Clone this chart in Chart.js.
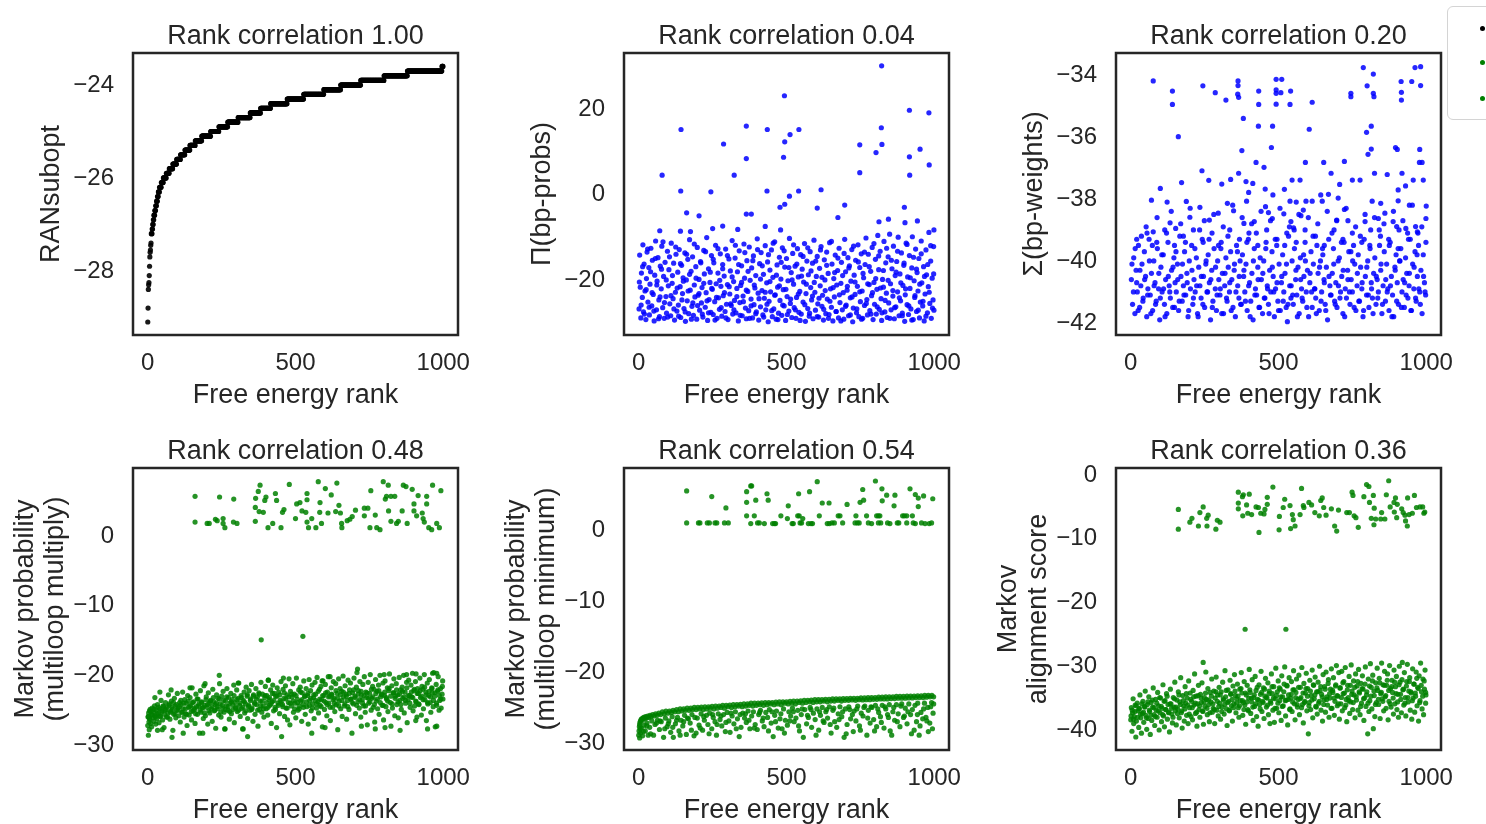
<!DOCTYPE html>
<html>
<head>
  <title>Rank correlation panels</title>
  <script src="https://cdn.jsdelivr.net/npm/chart.js@4.4.1/dist/chart.umd.min.js"></script>
  <style>
    body { margin: 0; width: 1486px; height: 824px; overflow: hidden; position: relative; background: #fff; }
    canvas { position: absolute; }
    #legend { position: absolute; left: 1447px; top: 6px; width: 80px; height: 112px; border: 1px solid #d4d4d4; border-radius: 6px; background: #fff; z-index: 5; }
    .dot { position: absolute; width: 5px; height: 5px; border-radius: 50%; }
  </style>
</head>
<body>
  <canvas id="c1" width="591" height="412" style="left:0px;top:0px"></canvas>
  <canvas id="c2" width="591" height="412" style="left:491px;top:0px"></canvas>
  <canvas id="c3" width="591" height="412" style="left:983px;top:0px"></canvas>
  <canvas id="c4" width="591" height="412" style="left:0px;top:415px"></canvas>
  <canvas id="c5" width="591" height="412" style="left:491px;top:415px"></canvas>
  <canvas id="c6" width="591" height="412" style="left:983px;top:415px"></canvas>
  <div id="legend">
    <span class="dot" style="left:32px;top:19px;background:#000"></span>
    <span class="dot" style="left:32px;top:53px;background:#008000"></span>
    <span class="dot" style="left:32px;top:89px;background:#008000"></span>
  </div>
<script>

// tick values
const rankTicks = [0, 500, 1000];
const ranTicks = [-28, -26, -24];
const bpProbsTicks = [-20, 0, 20];
const bpWeightsTicks = [-42, -40, -38, -36, -34];
const multiplyTicks = [-30, -20, -10, 0];
const minimumTicks = [-30, -20, -10, 0];
const alignmentTicks = [-40, -30, -20, -10, 0];

// RANsubopt: runs of equal value [first rank, last rank, value]
const ranRuns = [
  [0,0,-29.1],[1,1,-28.8],[2,2,-28.4],[3,3,-28.3],[4,4,-28.25],[5,5,-28.1],[6,6,-27.9],[7,7,-27.7],[8,8,-27.6],[9,9,-27.55],
  [10,10,-27.45],[11,11,-27.4],[12,14,-27.2],[15,16,-27.1],[17,18,-27.0],[19,20,-26.9],[21,23,-26.8],[24,26,-26.7],[27,29,-26.6],[30,32,-26.5],
  [33,35,-26.4],[36,39,-26.3],[40,45,-26.2],[46,52,-26.1],[53,62,-26.0],[63,72,-25.9],[73,84,-25.8],[85,97,-25.7],[98,110,-25.6],[111,125,-25.5],
  [126,142,-25.4],[143,160,-25.3],[161,182,-25.2],[183,212,-25.1],[213,240,-25.0],[241,270,-24.9],[271,305,-24.8],[306,346,-24.7],[347,381,-24.6],[382,415,-24.5],
  [416,471,-24.4],[472,527,-24.3],[528,595,-24.2],[596,652,-24.1],[653,720,-24.0],[721,799,-23.9],[800,878,-23.8],[879,995,-23.7],[996,999,-23.6]
];

// Π(bp-probs)
const bpProbsPoints = [
  [822,30.1],[493,23.1],[916,19.7],[982,19.1],[143,15.2],[364,16.0],[435,15.2],[542,15.2],[512,14.0],[494,12.3],
  [821,15.6],[287,11.8],[748,11.6],[823,11.7],[803,9.8],[952,10.6],[916,8.8],[364,8.4],[490,8.7],[983,6.9],
  [79,4.5],[323,4.5],[748,5.1],[917,4.5],[142,0.8],[244,0.6],[434,0.8],[541,0.8],[617,1.1],[510,-0.4],
  [494,-2.3],[478,-3.0],[604,-3.2],[697,-2.5],[899,-3.0],[162,-4.3],[204,-5.0],[364,-4.6],[381,-4.6],[674,-5.4],
  [813,-6.4],[845,-5.8],[943,-6.2],[901,-6.6],[999,-8.3],[71,-8.5],[141,-8.6],[175,-8.7],[284,-7.4],[250,-8.0],
  [428,-7.5],[480,-8.3],[335,-8.2],
  [1,-26.8],[3,-14.2],[5,-21.7],[7,-28.9],[9,-18.4],[12,-24.1],[14,-11.8],[16,-27.5],[18,-16.3],[21,-22.6],
  [24,-29.3],[26,-19.7],[28,-13.5],[31,-25.2],[34,-17.1],[36,-28.2],[38,-21.0],[41,-12.6],[44,-26.1],[46,-15.4],
  [49,-23.4],[52,-29.6],[54,-18.9],[57,-10.9],[60,-27.0],[62,-20.3],[65,-14.8],[68,-24.7],[70,-28.6],[73,-16.8],
  [76,-22.1],[78,-12.1],[81,-26.5],[84,-19.2],[86,-29.0],[89,-15.9],[92,-23.9],[94,-27.8],[97,-13.3],[100,-21.4],
  [102,-17.6],[105,-25.6],[108,-28.4],[110,-11.4],[113,-20.8],[116,-24.4],[118,-16.1],[121,-29.4],[124,-22.9],[126,-14.0],
  [129,-27.3],[132,-18.2],[134,-25.9],[137,-12.9],[140,-21.6],[142,-28.8],[145,-16.6],[148,-23.2],[150,-19.5],[153,-26.7],
  [156,-13.7],[158,-29.7],[161,-20.0],[164,-24.9],[166,-15.2],[169,-27.9],[172,-10.6],[174,-22.4],[177,-18.0],[180,-26.2],
  [182,-14.6],[185,-28.3],[188,-21.2],[190,-24.0],[193,-16.9],[196,-29.2],[198,-12.4],[201,-23.6],[204,-19.9],[206,-27.1],
  [209,-15.7],[212,-25.4],[214,-21.8],[217,-28.7],[220,-13.1],[222,-18.6],[225,-26.4],[228,-23.0],[230,-10.1],[233,-29.5],
  [236,-17.4],[238,-24.6],[241,-20.6],[244,-27.6],[246,-14.3],[249,-22.2],[252,-28.1],[254,-16.0],[257,-25.1],[260,-11.9],
  [262,-20.9],[265,-29.0],[268,-18.4],[270,-24.2],[273,-26.9],[276,-13.9],[278,-21.5],[281,-28.5],[284,-16.4],[286,-23.7],
  [289,-19.1],[292,-27.4],[294,-12.8],[297,-25.7],[300,-21.1],[302,-29.3],[305,-15.1],[308,-23.3],[310,-17.9],[313,-26.0],
  [316,-10.8],[318,-28.0],[321,-20.4],[324,-24.8],[326,-14.9],[329,-27.7],[332,-22.0],[334,-18.1],[337,-29.6],[340,-13.2],
  [342,-25.3],[345,-21.3],[348,-16.7],[350,-28.4],[353,-23.8],[356,-11.6],[358,-19.6],[361,-26.6],[364,-29.1],[366,-15.5],
  [369,-22.7],[372,-27.2],[374,-12.3],[377,-20.1],[380,-24.5],[382,-17.2],[385,-28.9],[388,-14.4],[390,-25.8],[393,-21.9],
  [396,-19.0],[398,-27.5],[401,-10.4],[404,-23.1],[406,-29.4],[409,-16.2],[412,-26.3],[414,-13.6],[417,-22.5],[420,-28.2],
  [422,-18.7],[425,-24.3],[428,-12.0],[430,-27.0],[433,-20.7],[436,-15.8],[438,-29.8],[441,-25.0],[444,-17.7],[446,-22.8],
  [449,-13.0],[452,-28.6],[454,-19.4],[457,-26.8],[460,-11.1],[462,-23.5],[465,-29.2],[468,-16.5],[470,-21.7],[473,-27.8],
  [476,-14.7],[478,-24.8],[481,-19.8],[484,-28.3],[486,-12.5],[489,-22.3],[492,-26.1],[494,-17.0],[497,-29.5],[500,-15.0],
  [502,-23.9],[505,-20.2],[508,-27.3],[510,-10.3],[513,-25.5],[516,-18.3],[518,-28.8],[521,-13.8],[524,-21.0],[526,-26.5],
  [529,-16.8],[532,-29.0],[534,-24.1],[537,-12.7],[540,-19.3],[542,-27.6],[545,-22.7],[548,-14.1],[550,-28.0],[553,-17.5],
  [556,-25.2],[558,-20.5],[561,-11.5],[564,-29.7],[566,-23.2],[569,-15.6],[572,-26.7],[574,-18.8],[577,-28.5],[580,-13.4],
  [582,-21.8],[585,-24.7],[588,-16.1],[590,-29.1],[593,-10.7],[596,-22.9],[598,-27.1],[601,-19.2],[604,-14.5],[606,-25.6],
  [609,-28.7],[612,-17.3],[614,-21.4],[617,-12.2],[620,-26.2],[622,-23.6],[625,-29.4],[628,-15.3],[630,-20.0],[633,-27.9],
  [636,-13.5],[638,-24.5],[641,-18.5],[644,-28.1],[646,-11.3],[649,-22.1],[652,-26.4],[654,-16.3],[657,-29.6],[660,-19.7],
  [662,-24.0],[665,-14.2],[668,-27.4],[670,-21.2],[673,-17.8],[676,-28.9],[678,-12.6],[681,-25.3],[684,-20.8],[686,-15.9],
  [689,-27.0],[692,-23.0],[694,-29.2],[697,-10.5],[700,-18.1],[702,-25.9],[705,-22.4],[708,-14.8],[710,-28.4],[713,-16.7],
  [716,-24.2],[718,-20.3],[721,-12.9],[724,-29.8],[726,-26.6],[729,-18.9],[732,-23.4],[734,-15.4],[737,-27.7],[740,-21.5],
  [742,-11.8],[745,-28.6],[748,-17.1],[750,-25.1],[753,-13.9],[756,-22.6],[758,-29.0],[761,-19.5],[764,-26.0],[766,-16.4],
  [769,-10.2],[772,-24.6],[774,-28.2],[777,-14.0],[780,-21.1],[782,-27.2],[785,-18.0],[788,-23.7],[790,-12.4],[793,-29.3],
  [796,-20.6],[798,-25.7],[801,-15.2],[804,-28.0],[806,-22.2],[809,-9.6],[812,-17.6],[814,-26.9],[817,-13.3],[820,-24.4],
  [822,-29.5],[825,-19.9],[828,-21.7],[830,-11.0],[833,-27.5],[836,-16.0],[838,-23.1],[841,-28.8],[844,-14.6],[846,-25.4],
  [849,-9.3],[852,-20.9],[854,-27.0],[857,-17.4],[860,-23.8],[862,-12.1],[865,-29.1],[868,-19.0],[870,-26.3],[873,-15.7],
  [876,-22.8],[878,-10.0],[881,-28.4],[884,-18.6],[886,-24.9],[889,-13.7],[892,-27.8],[894,-21.3],[897,-16.6],[900,-29.7],
  [902,-23.5],[905,-11.4],[908,-25.8],[910,-19.3],[913,-28.1],[916,-14.3],[918,-22.0],[921,-26.8],[924,-17.2],[926,-9.9],
  [929,-29.3],[932,-20.2],[934,-24.1],[937,-12.8],[940,-27.4],[942,-18.3],[945,-22.6],[948,-15.0],[950,-28.9],[953,-25.2],
  [956,-10.9],[958,-20.7],[961,-26.1],[964,-16.9],[966,-29.6],[969,-23.3],[972,-13.0],[974,-18.8],[977,-27.7],[980,-21.6],
  [982,-8.9],[985,-25.5],[988,-15.6],[990,-29.0],[993,-19.6],[996,-24.7],[998,-12.2],[999,-27.1],
  [2,-20.5],[8,-25.9],[13,-16.9],[19,-28.0],[25,-22.3],[30,-12.8],[35,-26.4],[40,-18.1],[45,-23.0],[51,-27.3],
  [56,-15.0],[61,-21.2],[67,-29.1],[72,-24.0],[77,-17.5],[82,-11.1],[87,-25.3],[93,-20.0],[98,-28.7],[104,-14.6],
  [109,-23.7],[114,-19.0],[119,-26.8],[125,-12.3],[130,-21.9],[135,-28.5],[141,-16.2],[146,-24.7],[151,-20.3],[157,-27.5],
  [162,-14.0],[167,-22.6],[172,-18.7],[178,-29.2],[183,-25.4],[188,-11.6],[194,-19.6],[199,-26.0],[204,-23.2],[210,-16.0],
  [215,-28.0],[220,-20.8],[226,-13.4],[231,-24.9],[236,-27.7],[242,-18.2],[247,-22.0],[252,-15.2],[258,-29.4],[263,-24.1],
  [268,-12.7],[274,-20.1],[279,-26.5],[284,-17.4],[290,-23.0],[295,-28.9],[300,-14.3],[306,-21.6],[311,-25.6],[316,-19.3],
  [322,-27.0],[327,-11.9],[332,-23.9],[338,-16.4],[343,-28.3],[348,-20.6],[354,-25.1],[359,-13.6],[364,-22.4],[370,-18.0],
  [375,-29.0],[380,-26.1],[386,-15.5],[391,-21.2],[396,-27.9],[402,-12.9],[407,-24.4],[412,-19.8],[418,-16.7],[423,-28.7],
  [428,-22.9],[434,-25.7],[439,-14.1],[444,-20.4],[450,-27.2],[455,-11.4],[460,-23.6],[466,-18.9],[471,-29.3],[476,-21.4],
  [482,-15.9],[487,-25.9],[492,-13.2],[498,-22.2],[503,-28.1],[508,-17.1],[514,-24.5],[519,-20.0],[524,-11.8],[530,-27.0],
  [535,-16.3],[540,-23.3],[546,-29.5],[551,-19.1],[556,-14.5],[562,-25.8],[567,-21.0],[572,-12.5],[578,-27.8],[583,-17.9],
  [588,-23.8],[594,-20.6],[599,-15.6],[604,-28.6],[610,-24.3],[615,-13.0],[620,-19.4],[626,-26.9],[631,-22.5],[636,-16.6],
  [642,-29.0],[647,-25.0],[652,-11.0],[658,-21.8],[663,-18.3],[668,-27.4],[674,-14.9],[679,-23.5],[684,-29.6],[690,-19.0],
  [695,-13.8],[700,-26.2],[706,-21.5],[711,-17.2],[716,-28.2],[722,-24.0],[727,-12.1],[732,-20.5],[738,-26.8],[743,-15.8],
  [748,-22.8],[754,-29.2],[759,-18.5],[764,-13.5],[770,-25.5],[775,-20.9],[780,-16.9],[786,-28.0],[791,-23.0],[796,-11.5],
  [802,-19.7],[807,-26.3],[812,-14.4],[818,-21.9],[823,-27.7],[828,-17.8],[834,-24.8],[839,-12.6],[844,-20.1],[850,-29.0],
  [855,-15.4],[860,-22.5],[866,-26.5],[871,-18.2],[876,-13.3],[882,-24.2],[887,-20.7],[892,-28.4],[898,-16.1],[903,-22.1],
  [908,-11.7],[914,-26.1],[919,-19.5],[924,-29.4],[930,-14.7],[935,-23.7],[940,-17.5],[946,-27.1],[951,-21.0],[956,-13.9],
  [962,-25.0],[967,-19.2],[972,-28.5],[978,-16.4],[983,-22.9],[988,-12.0],[994,-26.6],[998,-18.6]
];

// Σ(bp-weights)
const bpWeightsPoints = [
  [787,-33.76],[821,-33.97],[962,-33.76],[981,-33.73],[951,-34.21],[915,-34.21],[981,-34.34],[76,-34.19],[141,-34.52],[141,-34.95],
  [244,-34.35],[286,-34.57],[322,-34.81],[363,-34.19],[363,-34.34],[362,-34.62],[365,-34.72],[433,-34.52],[433,-34.95],[492,-34.14],
  [511,-34.14],[492,-34.48],[492,-34.59],[508,-34.57],[492,-34.94],[541,-34.52],[539,-34.95],[614,-34.88],[745,-34.59],[745,-34.70],
  [800,-34.35],[821,-34.59],[823,-34.70],[916,-34.56],[916,-34.81],[381,-35.40],[161,-35.99],[432,-35.65],[480,-35.65],[604,-35.75],
  [814,-35.65],[798,-35.85],[476,-36.34],[376,-36.44],[814,-36.39],[803,-36.56],[896,-36.34],[902,-36.40],[978,-36.40],[977,-36.82],
  [986,-36.82],[241,-37.09],[424,-36.82],[451,-36.98],[591,-36.82],[653,-36.82],[723,-36.79],[825,-37.17],[868,-37.21],[918,-37.17],
  [956,-37.39],[990,-37.39],[100,-37.66],[172,-37.47],[264,-37.40],[308,-37.52],[338,-37.37],[365,-37.17],[390,-37.44],[413,-37.50],
  [399,-37.79],[455,-37.68],[481,-37.87],[520,-37.69],[546,-37.39],[573,-37.39],[678,-37.17],[707,-37.53],[750,-37.39],[776,-37.39],
  [930,-37.58],[905,-37.71],[669,-37.85],[643,-37.87],[70,-38.04],[123,-38.10],[188,-38.08],[392,-38.07],[539,-38.07],[560,-38.10],
  [593,-38.07],[614,-38.07],[648,-38.07],[702,-37.97],[723,-38.34],[817,-38.07],[846,-38.14],[905,-38.06],[943,-38.20],[1000,-38.23],
  [999,-38.63],[234,-38.27],[327,-38.14],[348,-38.38],[296,-38.46],[266,-38.68],[200,-38.59],[133,-38.77],[152,-38.95],[76,-39.06],
  [456,-38.25],[466,-38.44],[479,-38.63],[518,-38.48],[584,-38.36],[576,-38.54],[542,-38.73],[551,-38.93],[418,-38.73],[383,-38.79],
  [697,-38.68],[735,-38.70],[793,-38.73],[838,-38.63],[860,-38.46],[888,-38.73],[900,-38.89],[931,-38.95],[964,-38.89],[970,-39.06],
  [20,-39.3],[55,-39.1],[88,-39.4],[115,-39.0],[148,-39.5],[178,-39.2],[212,-39.0],[245,-39.4],[275,-39.1],[305,-39.6],
  [335,-39.0],[368,-39.3],[400,-39.1],[430,-39.5],[460,-39.0],[495,-39.3],[528,-39.1],[560,-39.4],[590,-39.0],[625,-39.2],
  [655,-39.5],[688,-39.0],[718,-39.3],[750,-39.1],[782,-39.4],[812,-39.0],[845,-39.2],[875,-39.5],[908,-39.0],[940,-39.3],[972,-39.1],
  [2,-40.6],[6,-41.4],[10,-39.9],[14,-41.7],[18,-40.3],[22,-41.0],[26,-39.5],[30,-41.5],[34,-40.8],[38,-40.1],
  [42,-41.2],[46,-39.7],[50,-40.5],[54,-41.8],[58,-40.9],[62,-39.3],[66,-41.1],[70,-40.4],[74,-41.6],[78,-40.0],
  [82,-40.7],[86,-41.3],[90,-39.6],[94,-40.9],[98,-41.9],[102,-40.2],[106,-41.0],[110,-39.8],[114,-41.4],[118,-40.6],
  [122,-41.7],[126,-39.4],[130,-40.8],[134,-41.2],[138,-40.3],[142,-41.5],[146,-39.9],[150,-40.7],[154,-41.0],[158,-40.1],
  [162,-41.6],[166,-39.2],[170,-40.5],[174,-41.3],[178,-40.8],[182,-39.7],[186,-41.1],[190,-40.4],[194,-41.8],[198,-40.0],
  [202,-40.9],[206,-39.5],[210,-41.4],[214,-40.6],[218,-41.0],[222,-39.9],[226,-41.7],[230,-40.2],[234,-40.8],[238,-41.2],
  [242,-39.3],[246,-40.5],[250,-41.5],[254,-40.1],[258,-41.0],[262,-39.8],[266,-40.7],[270,-41.9],[274,-40.3],[278,-41.3],
  [282,-39.6],[286,-40.9],[290,-41.6],[294,-40.0],[298,-40.6],[302,-41.1],[306,-39.4],[310,-40.4],[314,-41.7],[318,-40.8],
  [322,-39.9],[326,-41.3],[330,-40.2],[334,-41.0],[338,-39.7],[342,-40.6],[346,-41.5],[350,-40.3],[354,-41.8],[358,-39.5],
  [362,-40.8],[366,-41.2],[370,-40.0],[374,-41.4],[378,-39.8],[382,-40.5],[386,-41.0],[390,-40.1],[394,-41.6],[398,-39.3],
  [402,-40.7],[406,-41.3],[410,-40.4],[414,-41.9],[418,-39.6],[422,-40.9],[426,-41.1],[430,-40.2],[434,-41.5],[438,-39.9],
  [442,-40.6],[446,-41.7],[450,-40.0],[454,-41.2],[458,-39.4],[462,-40.8],[466,-41.4],[470,-40.3],[474,-41.0],[478,-39.7],
  [482,-40.5],[486,-41.8],[490,-40.9],[494,-39.5],[498,-41.3],[502,-40.1],[506,-41.6],[510,-40.7],[514,-39.8],[518,-41.0],
  [522,-40.4],[526,-41.5],[530,-41.96],[534,-39.2],[538,-40.8],[542,-41.2],[546,-40.0],[550,-41.4],[554,-39.6],[558,-40.6],
  [562,-41.1],[566,-40.2],[570,-41.7],[574,-39.9],[578,-40.9],[582,-41.3],[586,-40.5],[590,-39.4],[594,-41.0],[598,-40.3],
  [602,-41.8],[606,-40.7],[610,-39.7],[614,-41.5],[618,-40.1],[622,-40.9],[626,-41.2],[630,-39.5],[634,-40.4],[638,-41.6],
  [642,-40.0],[646,-41.0],[650,-39.8],[654,-40.6],[658,-41.4],[662,-40.2],[666,-41.9],[670,-39.3],[674,-40.8],[678,-41.1],
  [682,-40.4],[686,-39.6],[690,-41.3],[694,-40.7],[698,-41.5],[702,-40.0],[706,-39.9],[710,-41.0],[714,-40.5],[718,-41.7],
  [722,-39.4],[726,-40.9],[730,-41.2],[734,-40.3],[738,-39.7],[742,-41.4],[746,-40.6],[750,-41.0],[754,-39.5],[758,-40.1],
  [762,-41.6],[766,-40.8],[770,-39.8],[774,-41.3],[778,-40.2],[782,-40.9],[786,-41.8],[790,-39.3],[794,-40.5],[798,-41.1],
  [802,-40.0],[806,-41.5],[810,-39.6],[814,-40.7],[818,-41.2],[822,-40.4],[826,-39.9],[830,-41.4],[834,-40.6],[838,-41.0],
  [842,-39.5],[846,-40.3],[850,-41.7],[854,-40.8],[858,-39.7],[862,-41.3],[866,-40.1],[870,-40.9],[874,-41.6],[878,-39.4],
  [882,-40.5],[886,-41.1],[890,-41.8],[894,-40.2],[898,-39.8],[902,-40.7],[906,-41.4],[910,-40.0],[914,-39.6],[918,-41.0],
  [922,-40.6],[926,-41.5],[930,-39.9],[934,-40.4],[938,-41.2],[942,-40.8],[946,-39.3],[950,-41.6],[954,-40.1],[958,-40.9],
  [962,-39.7],[966,-41.3],[970,-40.5],[974,-39.5],[978,-41.0],[982,-40.3],[986,-41.7],[990,-39.8],[994,-40.7],[998,-41.1],
  [4,-40.1],[9,-41.0],[15,-39.6],[20,-40.7],[25,-41.6],[31,-40.3],[36,-39.2],[41,-41.3],[47,-40.6],[52,-38.9],
  [57,-41.1],[63,-40.0],[68,-41.7],[73,-39.5],[79,-40.8],[84,-41.4],[89,-38.6],[95,-40.4],[100,-41.2],[105,-39.8],
  [111,-40.9],[116,-41.8],[121,-39.1],[127,-40.5],[132,-41.0],[137,-38.4],[143,-40.2],[148,-41.5],[153,-39.7],[159,-40.6],
  [164,-41.3],[169,-38.8],[175,-40.1],[180,-41.1],[185,-39.4],[191,-40.7],[196,-41.6],[201,-38.3],[207,-40.3],[212,-41.2],
  [217,-39.6],[223,-40.8],[228,-41.8],[233,-39.0],[239,-40.5],[244,-41.4],[249,-38.7],[255,-40.0],[260,-41.0],[265,-39.3],
  [271,-40.6],[276,-41.5],[281,-38.5],[287,-40.2],[292,-41.1],[297,-39.5],[303,-40.9],[308,-41.7],[313,-38.9],[319,-40.4],
  [324,-41.2],[329,-39.2],[335,-40.7],[340,-41.6],[345,-38.2],[351,-40.1],[356,-41.0],[361,-39.7],[367,-40.5],[372,-41.4],
  [377,-38.6],[383,-40.3],[388,-41.3],[393,-39.4],[399,-40.8],[404,-41.8],[409,-38.8],[415,-40.0],[420,-41.1],[425,-39.1],
  [431,-40.6],[436,-41.5],[441,-38.4],[447,-40.4],[452,-41.2],[457,-39.6],[463,-40.9],[468,-41.7],[473,-38.7],[479,-40.2],
  [484,-41.0],[489,-39.3],[495,-40.7],[500,-41.6],[505,-38.3],[511,-40.5],[516,-41.3],[521,-39.5],[527,-40.1],[532,-41.4],
  [537,-38.9],[543,-40.8],[548,-41.1],[553,-39.0],[559,-40.3],[564,-41.8],[569,-38.5],[575,-40.6],[580,-41.2],[585,-39.8],
  [591,-40.0],[596,-41.5],[601,-38.6],[607,-40.4],[612,-41.0],[617,-39.2],[623,-40.9],[628,-41.7],[633,-38.8],[639,-40.2],
  [644,-41.3],[649,-39.6],[655,-40.7],[660,-41.6],[665,-38.4],[671,-40.5],[676,-41.1],[681,-39.1],[687,-40.1],[692,-41.4],
  [697,-38.7],[703,-40.8],[708,-41.2],[713,-39.4],[719,-40.3],[724,-41.8],[729,-38.3],[735,-40.6],[740,-41.0],[745,-39.7],
  [751,-40.0],[756,-41.5],[761,-38.9],[767,-40.4],[772,-41.3],[777,-39.2],[783,-40.7],[788,-41.6],[793,-38.5],[799,-40.2],
  [804,-41.1],[809,-39.5],[815,-40.9],[820,-41.7],[825,-38.6],[831,-40.5],[836,-41.2],[841,-39.0],[847,-40.1],[852,-41.4],
  [857,-38.8],[863,-40.6],[868,-41.0],[873,-39.3],[879,-40.8],[884,-41.8],[889,-38.4],[895,-40.3],[900,-41.3],[905,-39.6],
  [911,-40.0],[916,-41.5],[921,-38.7],[927,-40.7],[932,-41.1],[937,-39.1],[943,-40.4],[948,-41.6],[953,-38.2],[959,-40.2],
  [964,-41.2],[969,-39.8],[975,-40.9],[980,-41.4],[985,-38.9],[991,-40.5],[996,-41.0],[999,-39.4]
];

// Markov probability (multiloop multiply)
const multiplyPoints = [
  [160,5.7],[160,2.0],[201,1.8],[208,1.8],[243,5.6],[229,2.4],[235,2.2],[255,2.5],[255,1.8],[261,1.2],
  [291,5.3],[290,2.0],[302,1.8],[365,5.4],[364,4.1],[364,2.1],[374,6.4],[380,7.3],[377,3.5],[391,3.4],
  [396,5.1],[400,5.6],[407,1.2],[423,1.8],[432,6.1],[436,5.1],[451,1.2],[456,3.4],[461,3.8],[479,7.4],
  [500,2.5],[504,4.6],[515,4.8],[522,3.6],[539,6.1],[539,5.2],[535,3.4],[539,2.0],[544,1.2],[555,2.5],
  [569,1.2],[577,7.8],[583,4.8],[582,3.4],[588,1.8],[601,6.8],[610,3.3],[621,5.9],[636,3.5],[640,7.6],
  [647,4.4],[652,3.3],[656,1.8],[657,1.2],[675,2.2],[684,2.4],[692,2.8],[703,3.7],[733,4.0],[745,4.0],
  [733,2.9],[755,6.5],[752,1.2],[770,3.0],[775,1.2],[786,0.9],[797,7.8],[814,7.3],[804,5.3],[808,5.7],
  [823,5.7],[836,5.7],[815,3.6],[823,2.1],[842,1.8],[848,2.1],[861,3.6],[865,7.3],[874,7.1],[878,1.8],
  [895,6.7],[901,4.6],[901,3.6],[910,2.9],[915,5.8],[929,3.3],[932,2.5],[936,2.0],[944,5.7],[944,4.6],
  [951,1.2],[961,0.9],[964,7.3],[978,1.8],[987,1.2],[992,6.5],
  [384,-14.9],[525,-14.4],
  [82,-28.9],[120,-28.3],[186,-28.3],[338,-28.8],[555,-28.3],[854,-27.9],[947,-27.7],[978,-27.3],[261,-27.7],[323,-27.7],
  [49,-27.8],[33,-27.9],[600,-27.5],[723,-27.3],[803,-27.5],[907,-26.5],[770,-27.7],
  [242,-20.0],[710,-19.1],[800,-19.9],[876,-19.9],[908,-19.8],[964,-19.7],[978,-19.7],[459,-20.4],[590,-20.8],[617,-20.2],
  [408,-20.7],[306,-21.1],[194,-21.2],[143,-21.8],[79,-22.1],[41,-22.4],[24,-23.2],
  [0,-27.2],[1,-26.0],[2,-28.6],[3,-25.4],[4,-26.7],[5,-27.8],[6,-25.1],[7,-26.3],[8,-24.9],[10,-26.9],
  [12,-25.6],[13,-27.4],[15,-24.7],[17,-26.1],[19,-25.3],[21,-26.6],[23,-24.4],[25,-25.8],[27,-27.0],[29,-25.0],
  [31,-26.2],[33,-24.2],[36,-25.5],[38,-26.8],[40,-24.8],[43,-25.9],[45,-23.6],[48,-25.2],[50,-26.4],[53,-24.5],
  [55,-27.5],[58,-25.0],[60,-23.9],[63,-26.0],[65,-24.6],[68,-25.4],[70,-22.8],[73,-24.1],[75,-26.3],[78,-25.1],
  [80,-23.7],[83,-24.9],[85,-27.9],[88,-25.6],[90,-23.3],[93,-24.4],[95,-26.1],[98,-25.0],[100,-22.6],[103,-24.7],
  [105,-25.8],[108,-23.9],[110,-26.7],[113,-24.2],[115,-25.3],[118,-22.4],[120,-24.8],[123,-26.0],[125,-23.5],[128,-25.5],
  [130,-24.0],[133,-27.2],[135,-22.9],[138,-24.6],[140,-25.7],[143,-23.2],[145,-24.3],[148,-26.4],[150,-21.8],[153,-25.1],
  [155,-23.8],[158,-24.9],[160,-26.9],[163,-22.7],[165,-24.5],[168,-25.6],[170,-23.4],[173,-24.1],[175,-28.3],[178,-22.2],
  [180,-25.3],[183,-23.9],[185,-24.7],[188,-26.2],[190,-21.5],[193,-24.3],[195,-25.8],[198,-23.1],[200,-24.6],[203,-27.0],
  [205,-22.5],[208,-24.0],[210,-25.4],[213,-23.6],[215,-24.8],[218,-26.6],[220,-22.0],[223,-23.8],[225,-25.1],[228,-24.2],
  [230,-27.6],[233,-22.8],[235,-24.5],[238,-23.3],[240,-25.7],[243,-21.2],[245,-24.1],[248,-26.0],[250,-23.0],[253,-24.7],
  [255,-22.3],[258,-25.3],[261,-27.7],[263,-23.7],[266,-24.4],[268,-21.9],[271,-25.0],[273,-23.2],[276,-26.3],[278,-24.0],
  [281,-22.6],[283,-25.5],[286,-23.5],[288,-24.9],[291,-21.4],[293,-26.8],[296,-23.9],[298,-24.6],[301,-22.1],[303,-25.2],
  [306,-23.3],[308,-21.1],[311,-24.3],[313,-25.9],[316,-22.9],[318,-24.8],[321,-27.7],[323,-23.6],[326,-22.4],[328,-25.4],
  [331,-24.1],[333,-21.7],[336,-23.0],[338,-26.2],[341,-24.5],[343,-22.2],[346,-25.0],[348,-23.4],[351,-21.3],[353,-24.7],
  [356,-26.6],[358,-22.8],[361,-23.9],[363,-25.6],[366,-21.9],[368,-24.2],[371,-23.1],[373,-27.3],[376,-22.5],[378,-24.9],
  [381,-23.7],[383,-21.0],[386,-25.3],[388,-22.7],[391,-24.4],[393,-26.0],[396,-23.2],[398,-21.6],[401,-24.8],[403,-22.9],
  [406,-25.7],[408,-20.7],[411,-23.5],[413,-24.3],[416,-22.1],[418,-26.9],[421,-23.8],[423,-21.4],[426,-25.1],[428,-22.6],
  [431,-24.6],[433,-23.0],[436,-27.5],[438,-21.8],[441,-24.0],[443,-22.4],[446,-25.5],[448,-23.6],[451,-20.9],[453,-28.8],
  [456,-24.2],[458,-22.0],[461,-23.3],[463,-25.9],[466,-21.5],[468,-24.7],[471,-22.8],[473,-26.4],[476,-23.9],[478,-20.5],
  [481,-27.1],[483,-22.3],[486,-24.4],[488,-23.1],[491,-21.2],[493,-25.3],[496,-22.7],[498,-24.0],[501,-26.1],[503,-20.4],
  [506,-23.4],[508,-25.0],[511,-22.1],[513,-24.8],[516,-21.7],[518,-23.7],[521,-26.6],[523,-22.5],[526,-24.2],[528,-20.8],
  [531,-23.0],[533,-25.6],[536,-21.9],[538,-24.5],[541,-22.9],[543,-27.0],[546,-20.6],[548,-23.6],[551,-22.2],[553,-25.1],
  [556,-21.4],[558,-24.1],[561,-23.2],[563,-26.2],[566,-21.0],[568,-22.7],[571,-24.7],[573,-20.3],[576,-23.8],[578,-25.4],
  [581,-22.0],[583,-24.3],[586,-21.6],[588,-23.5],[591,-27.4],[593,-20.8],[596,-22.9],[598,-24.9],[601,-21.3],[603,-23.9],
  [606,-25.8],[608,-22.4],[611,-20.2],[613,-24.0],[616,-23.0],[618,-26.5],[621,-21.8],[623,-22.8],[626,-24.6],[628,-20.9],
  [631,-23.3],[633,-25.2],[636,-21.2],[638,-24.2],[641,-22.6],[643,-27.8],[646,-20.5],[648,-23.7],[651,-21.9],[653,-24.8],
  [656,-22.3],[658,-25.9],[661,-20.1],[663,-23.1],[666,-24.4],[668,-21.5],[671,-22.7],[673,-26.3],[676,-23.6],[678,-20.7],
  [681,-24.9],[683,-22.1],[686,-21.1],[688,-23.4],[691,-28.3],[693,-22.5],[696,-24.1],[698,-20.4],[701,-23.0],[703,-25.5],
  [706,-21.7],[708,-19.6],[711,-23.8],[713,-22.2],[716,-24.7],[718,-20.9],[721,-26.0],[723,-22.8],[726,-23.5],[728,-21.3],
  [731,-24.4],[733,-20.2],[736,-25.3],[738,-22.4],[741,-23.2],[743,-27.1],[746,-21.0],[748,-24.0],[751,-22.6],[753,-19.9],
  [756,-25.0],[758,-23.3],[761,-21.6],[763,-24.6],[766,-22.0],[768,-26.7],[771,-20.6],[773,-23.7],[776,-22.3],[778,-24.8],
  [781,-21.4],[783,-25.6],[786,-20.0],[788,-23.1],[791,-22.7],[793,-24.3],[796,-21.1],[798,-26.4],[801,-22.9],[803,-20.8],
  [806,-24.5],[808,-23.4],[811,-21.8],[813,-25.2],[816,-22.2],[818,-19.8],[821,-23.9],[823,-27.3],[826,-21.5],[828,-24.7],
  [831,-22.5],[833,-20.5],[836,-25.8],[838,-23.0],[841,-21.2],[843,-24.2],[846,-22.8],[848,-26.1],[851,-20.3],[853,-23.6],
  [856,-22.1],[858,-24.9],[861,-21.7],[863,-23.3],[866,-20.0],[868,-25.4],[871,-22.4],[873,-24.0],[876,-21.0],[878,-26.8],
  [881,-23.5],[883,-20.7],[886,-22.9],[888,-24.6],[891,-21.4],[893,-23.1],[896,-19.7],[898,-25.1],[901,-22.2],[903,-24.4],
  [906,-20.9],[908,-23.8],[911,-26.0],[913,-21.9],[916,-22.6],[918,-24.2],[921,-20.4],[923,-23.2],[926,-25.7],[928,-21.6],
  [931,-22.0],[933,-24.8],[936,-19.9],[938,-23.5],[941,-22.4],[943,-26.5],[946,-21.1],[948,-24.1],[951,-22.9],[953,-20.6],
  [956,-23.9],[958,-25.3],[961,-21.8],[963,-22.5],[966,-24.5],[968,-19.6],[971,-23.0],[973,-27.4],[976,-21.3],[978,-24.3],
  [981,-22.3],[983,-20.2],[986,-25.0],[988,-23.6],[991,-21.9],[993,-24.7],[996,-22.7],[998,-20.8],[999,-23.4],
  [2,-25.9],[6,-26.2],[11,-25.2],[16,-25.7],[22,-24.9],[26,-26.0],[32,-25.5],[37,-24.6],[42,-25.8],[47,-25.1],
  [52,-24.4],[57,-25.6],[62,-24.9],[67,-26.0],[72,-24.3],[77,-25.3],[82,-24.6],[87,-23.9],[92,-25.5],[97,-24.2],
  [102,-25.0],[107,-24.5],[112,-23.6],[117,-25.3],[122,-24.0],[127,-24.8],[132,-25.6],[137,-23.7],[142,-24.5],[147,-25.2],
  [152,-23.9],[157,-24.7],[162,-25.5],[167,-23.4],[172,-24.4],[177,-25.0],[182,-23.8],[187,-24.6],[192,-25.4],[197,-23.5],
  [202,-24.2],[207,-25.1],[212,-23.7],[217,-24.5],[222,-23.2],[227,-25.0],[232,-24.0],[237,-24.8],[242,-23.4],[247,-25.3],
  [252,-24.3],[257,-23.6],[262,-24.9],[267,-23.1],[272,-24.5],[277,-25.2],[282,-23.8],[287,-24.2],[292,-22.9],[297,-24.7],
  [302,-23.5],[307,-25.0],[312,-24.0],[317,-23.2],[322,-24.6],[327,-23.8],[332,-25.1],[337,-22.8],[342,-24.3],[347,-23.6],
  [352,-24.9],[357,-23.0],[362,-24.1],[367,-23.4],[372,-25.0],[377,-22.7],[382,-24.4],[387,-23.7],[392,-24.8],[397,-22.9],
  [402,-23.9],[407,-24.6],[412,-23.2],[417,-24.1],[422,-22.6],[427,-23.6],[432,-24.9],[437,-23.0],[442,-24.3],[447,-22.8],
  [452,-23.8],[457,-24.5],[462,-22.5],[467,-23.4],[472,-24.7],[477,-23.1],[482,-24.0],[487,-22.7],[492,-23.7],[497,-24.8],
  [502,-22.9],[507,-23.9],[512,-24.4],[517,-22.4],[522,-23.5],[527,-24.6],[532,-23.0],[537,-23.8],[542,-22.6],[547,-24.3],
  [552,-23.3],[557,-24.7],[562,-22.8],[567,-23.6],[572,-24.1],[577,-22.3],[582,-23.4],[587,-24.5],[592,-22.9],[597,-23.7],
  [602,-22.5],[607,-24.2],[612,-23.1],[617,-24.6],[622,-22.7],[627,-23.5],[632,-24.0],[637,-22.2],[642,-23.3],[647,-24.4],
  [652,-22.8],[657,-23.6],[662,-22.4],[667,-24.1],[672,-23.0],[677,-24.5],[682,-22.6],[687,-23.4],[692,-23.9],[697,-22.1],
  [702,-23.2],[707,-24.3],[712,-22.7],[717,-23.5],[722,-22.3],[727,-24.0],[732,-22.9],[737,-24.4],[742,-22.5],[747,-23.3],
  [752,-23.8],[757,-22.0],[762,-23.1],[767,-24.2],[772,-22.6],[777,-23.4],[782,-22.2],[787,-23.9],[792,-22.8],[797,-24.3],
  [802,-22.4],[807,-23.2],[812,-23.7],[817,-21.9],[822,-23.0],[827,-24.1],[832,-22.5],[837,-23.3],[842,-22.1],[847,-23.8],
  [852,-22.7],[857,-24.2],[862,-22.3],[867,-23.1],[872,-23.6],[877,-21.8],[882,-22.9],[887,-24.0],[892,-22.4],[897,-23.2],
  [902,-22.0],[907,-23.7],[912,-22.6],[917,-24.1],[922,-22.2],[927,-23.0],[932,-23.5],[937,-21.7],[942,-22.8],[947,-23.9],
  [952,-22.3],[957,-23.1],[962,-21.9],[967,-23.6],[972,-22.5],[977,-24.0],[982,-22.1],[987,-22.9],[992,-23.4],[997,-21.6]
];

// Markov probability (multiloop minimum)
const minimumPoints = [
  [162,1.0],[202,1.0],[207,1.0],[232,1.0],[239,1.0],[258,1.0],[264,1.0],[290,1.0],[303,1.0],[379,0.9],
  [402,1.0],[408,1.0],[425,0.9],[453,0.9],[459,0.9],[463,0.9],[519,0.9],[523,0.9],[546,1.0],[551,1.0],
  [574,0.9],[583,0.9],[588,0.9],[638,0.9],[645,0.9],[654,1.0],[662,1.0],[690,1.0],[732,1.0],[740,1.0],
  [746,1.0],[777,1.0],[788,0.9],[811,1.0],[819,1.0],[842,1.0],[850,0.9],[875,1.0],[880,1.0],[907,1.0],
  [929,1.0],[936,0.9],[957,1.0],[969,0.9],[983,0.9],[991,1.0],
  [365,2.0],[391,2.0],[481,2.0],[538,2.0],[543,2.0],[611,2.0],[675,2.0],[681,2.0],[735,2.0],[771,2.0],
  [805,2.0],[811,2.0],[816,2.0],[893,2.0],[899,2.0],[907,2.0],[926,2.0],
  [162,5.5],[247,4.7],[295,3.1],[365,5.4],[379,6.2],[382,6.2],[365,3.9],[396,4.2],[434,5.1],[438,4.2],
  [506,3.4],[503,1.6],[541,5.1],[555,1.6],[578,5.4],[604,6.8],[621,3.8],[644,3.8],[705,3.6],[749,3.9],
  [758,5.7],[761,4.2],[801,6.9],[823,5.8],[824,4.1],[839,4.9],[864,3.4],[867,4.9],[918,5.8],[936,5.0],
  [946,4.5],[964,4.8],[946,3.3],[995,4.4],
  [0,-28.9],[1,-28.3],[2,-27.7],[3,-27.4],[4,-27.1],[6,-26.9],[8,-26.7],[10,-26.6],[12,-26.8],[14,-26.5],
  [17,-26.4],[20,-26.6],[23,-26.3],[26,-26.5],[30,-26.2],[34,-26.4],[38,-26.1],[42,-26.3],[47,-26.0],[52,-26.2],
  [57,-25.9],[62,-26.1],[68,-25.8],[74,-26.0],[80,-25.6],[86,-25.9],[92,-25.5],[98,-25.8],[104,-25.5],[110,-25.7],
  [116,-25.4],[122,-25.6],[128,-25.3],[134,-25.6],[140,-25.2],[146,-25.5],[152,-25.2],[158,-25.4],[164,-25.1],[170,-25.4],
  [176,-25.1],[182,-25.3],[188,-25.0],[194,-25.3],[200,-25.0],[206,-25.2],[212,-24.95],[218,-25.3],[224,-24.9],[230,-25.2],
  [236,-24.9],[242,-25.1],[248,-24.85],[254,-25.2],[260,-24.8],[266,-25.1],[272,-24.8],[278,-25.0],[284,-24.7],[290,-25.1],
  [296,-24.7],[302,-24.9],[308,-24.65],[314,-25.0],[320,-24.6],[326,-24.9],[332,-24.6],[338,-24.8],[344,-24.55],[350,-24.9],
  [356,-24.5],[362,-24.8],[368,-24.5],[374,-24.7],[380,-24.4],[386,-24.8],[392,-24.4],[398,-24.7],[404,-24.4],[410,-24.6],
  [416,-24.35],[422,-24.7],[428,-24.3],[434,-24.6],[440,-24.3],[446,-24.5],[452,-24.3],[458,-24.6],[464,-24.25],[470,-24.5],
  [476,-24.2],[482,-24.6],[488,-24.2],[494,-24.4],[500,-24.2],[506,-24.5],[512,-24.15],[518,-24.4],[524,-24.1],[530,-24.5],
  [536,-24.1],[542,-24.3],[548,-24.05],[554,-24.4],[560,-24.0],[566,-24.3],[572,-24.0],[578,-24.2],[584,-23.95],[590,-24.3],
  [596,-23.9],[602,-24.2],[608,-23.9],[614,-24.2],[620,-23.9],[626,-24.1],[632,-23.85],[638,-24.2],[644,-23.85],[650,-24.1],
  [656,-23.8],[662,-24.1],[668,-23.8],[674,-24.0],[680,-23.8],[686,-24.1],[692,-23.75],[698,-24.0],[704,-23.75],[710,-24.0],
  [716,-23.7],[722,-23.95],[728,-23.7],[734,-24.0],[740,-23.7],[746,-23.9],[752,-23.65],[758,-23.95],[764,-23.65],[770,-23.9],
  [776,-23.6],[782,-23.9],[788,-23.6],[794,-23.85],[800,-23.6],[806,-23.85],[812,-23.55],[818,-23.8],[824,-23.55],[830,-23.8],
  [836,-23.5],[842,-23.8],[848,-23.5],[854,-23.75],[860,-23.5],[866,-23.75],[872,-23.45],[878,-23.7],[884,-23.45],[890,-23.7],
  [896,-23.45],[902,-23.7],[908,-23.4],[914,-23.65],[920,-23.4],[926,-23.65],[932,-23.4],[938,-23.6],[944,-23.35],[950,-23.6],
  [956,-23.35],[962,-23.6],[968,-23.3],[974,-23.55],[980,-23.3],[986,-23.5],[992,-23.3],[998,-23.5],
  [3,-29.3],[6,-28.6],[9,-27.9],[13,-29.0],[18,-27.5],[22,-28.3],[28,-27.2],[32,-28.9],[37,-27.8],[44,-26.9],
  [50,-28.9],[55,-27.4],[63,-26.8],[70,-28.1],[76,-27.0],[84,-29.2],[90,-26.5],[96,-27.7],[102,-26.9],[108,-28.5],
  [113,-26.3],[117,-29.2],[124,-27.3],[131,-26.4],[136,-28.3],[143,-26.8],[149,-27.6],[155,-26.1],[161,-28.8],[168,-26.6],
  [174,-27.2],[180,-26.0],[187,-29.0],[194,-28.6],[198,-26.5],[204,-27.5],[211,-25.9],[216,-28.2],[222,-26.8],[229,-26.1],
  [234,-27.4],[240,-25.8],[247,-28.0],[252,-26.4],[258,-27.0],[263,-28.9],[269,-25.9],[275,-26.7],[281,-27.6],[287,-26.0],
  [293,-28.4],[299,-25.7],[305,-26.9],[309,-28.5],[316,-26.2],[322,-27.3],[327,-25.6],[334,-26.6],[340,-29.1],[346,-27.8],
  [352,-25.8],[358,-26.5],[364,-27.1],[370,-25.5],[376,-28.0],[382,-26.2],[388,-25.6],[394,-27.4],[401,-28.1],[406,-26.0],
  [412,-25.4],[418,-26.9],[424,-27.7],[430,-25.7],[436,-26.4],[442,-25.3],[448,-27.2],[455,-29.1],[460,-26.1],[466,-25.5],
  [472,-27.9],[478,-26.6],[485,-28.0],[490,-25.2],[496,-26.8],[503,-27.5],[508,-25.6],[514,-26.2],[520,-25.1],[526,-27.0],
  [532,-26.5],[538,-25.4],[544,-28.3],[550,-26.0],[557,-29.2],[562,-25.3],[568,-27.3],[574,-26.4],[580,-25.0],[585,-27.8],
  [591,-25.8],[597,-26.7],[603,-25.2],[609,-28.2],[615,-26.1],[621,-25.0],[627,-27.1],[633,-25.6],[639,-26.5],[645,-24.9],
  [651,-28.6],[657,-25.4],[663,-27.0],[670,-27.8],[675,-25.9],[681,-24.9],[687,-26.3],[695,-29.2],[699,-25.2],[705,-27.4],
  [711,-24.9],[717,-26.6],[726,-28.4],[729,-25.5],[735,-26.9],[741,-24.8],[747,-27.6],[753,-25.8],[759,-26.2],[765,-24.8],
  [772,-28.9],[777,-25.4],[783,-27.2],[789,-25.0],[795,-26.7],[801,-24.7],[805,-27.7],[812,-25.7],[818,-26.3],[824,-24.7],
  [830,-27.9],[836,-25.2],[842,-26.0],[848,-24.6],[856,-28.9],[860,-25.6],[866,-26.8],[872,-24.6],[878,-25.9],[884,-27.7],
  [890,-24.5],[896,-26.4],[902,-25.1],[908,-27.3],[914,-24.5],[920,-26.0],[926,-25.3],[932,-28.2],[940,-27.0],[944,-24.4],
  [949,-28.9],[955,-25.7],[961,-26.6],[967,-24.4],[972,-26.4],[978,-25.0],[980,-28.4],[985,-27.2],[991,-24.3],[996,-25.8],
  [5,-28.0],[16,-28.4],[27,-27.6],[40,-28.7],[60,-27.2],[72,-26.9],[88,-28.0],[100,-27.3],[115,-27.8],[128,-26.8],
  [140,-28.9],[152,-27.0],[165,-26.5],[178,-28.2],[190,-26.4],[208,-27.9],[220,-26.3],[238,-28.7],[250,-26.0],[265,-27.4],
  [278,-26.2],[295,-27.1],[312,-25.8],[330,-28.0],[343,-26.0],[361,-25.9],[373,-26.8],[391,-27.9],[409,-25.7],[421,-26.5],
  [439,-28.3],[451,-25.6],[463,-27.0],[481,-25.9],[493,-28.6],[511,-26.9],[523,-25.6],[541,-27.6],[553,-25.2],[571,-26.1],
  [583,-25.3],[600,-28.9],[612,-25.6],[624,-26.9],[636,-25.3],[648,-27.4],[660,-25.1],[678,-26.7],[690,-25.6],[702,-28.7],
  [714,-25.3],[723,-26.0],[738,-25.2],[750,-28.2],[762,-25.0],[775,-26.5],[786,-24.9],[798,-28.3],[809,-25.2],[821,-27.1],
  [833,-24.9],[845,-26.4],[851,-28.3],[863,-25.0],[875,-27.0],[887,-24.8],[899,-26.2],[911,-25.6],[923,-28.7],[935,-24.7],
  [943,-26.0],[952,-27.6],[964,-25.2],[975,-26.9],[988,-24.9],[994,-28.0],[998,-24.5]
];

// Markov alignment score
const alignmentPoints = [
  [161,-5.4],[161,-8.5],[200,-7.4],[207,-6.8],[229,-8.0],[234,-5.9],[245,-5.0],[257,-6.8],[262,-6.3],[258,-8.0],
  [288,-8.5],[293,-7.1],[302,-7.4],[364,-2.7],[364,-4.4],[364,-5.3],[378,-3.4],[381,-3.1],[379,-6.4],[392,-4.7],
  [396,-6.0],[401,-3.0],[409,-6.2],[424,-5.0],[432,-5.1],[434,-9.0],[440,-6.0],[451,-6.1],[454,-5.4],[462,-4.6],
  [462,-3.5],[481,-1.9],[503,-6.5],[502,-8.6],[516,-5.1],[521,-3.8],[539,-4.8],[541,-8.4],[547,-6.2],[550,-7.0],
  [556,-8.0],[573,-6.2],[578,-2.1],[584,-4.8],[586,-5.1],[603,-4.3],[612,-4.7],[623,-5.9],[638,-6.4],[643,-4.0],
  [648,-3.6],[653,-5.1],[661,-6.3],[679,-5.3],[690,-8.0],[697,-8.8],[703,-5.5],[731,-5.9],[740,-5.9],[749,-2.7],
  [752,-3.2],[756,-6.4],[762,-6.7],[770,-8.2],[789,-3.4],[798,-1.5],[806,-1.8],[808,-4.3],[821,-3.2],[824,-5.2],
  [823,-7.8],[814,-6.8],[829,-6.9],[849,-5.9],[846,-6.9],[860,-6.9],[865,-3.1],[873,-0.9],[878,-5.0],[891,-4.3],
  [896,-3.6],[892,-5.8],[900,-6.7],[902,-4.6],[917,-5.3],[922,-5.9],[928,-6.3],[930,-7.2],[936,-8.0],[937,-3.6],
  [942,-6.2],[953,-6.0],[960,-3.2],[967,-5.1],[979,-5.0],[988,-5.0],[992,-6.0],[995,-5.8],
  [387,-24.2],[525,-24.2],[245,-29.4],
  [0,-38.4],[2,-36.5],[4,-40.2],[6,-37.3],[8,-35.1],[10,-39.0],[12,-37.9],[15,-36.1],[17,-41.1],[19,-38.6],
  [22,-35.8],[24,-37.0],[27,-39.6],[29,-36.6],[31,-34.5],[34,-38.1],[36,-40.5],[39,-37.4],[41,-35.5],[44,-38.8],
  [46,-36.3],[49,-33.9],[51,-37.7],[54,-39.9],[56,-36.0],[59,-38.2],[61,-34.8],[64,-37.1],[66,-40.7],[69,-35.7],
  [71,-38.5],[74,-36.4],[76,-33.4],[79,-37.6],[81,-39.3],[84,-35.2],[86,-36.9],[89,-38.0],[91,-34.1],[94,-36.2],
  [96,-40.0],[99,-37.3],[101,-35.0],[104,-38.7],[106,-36.6],[109,-32.9],[111,-37.8],[114,-39.5],[116,-35.4],[119,-36.8],
  [121,-34.3],[124,-38.3],[126,-36.0],[129,-37.2],[131,-40.3],[134,-33.6],[136,-35.9],[139,-37.5],[141,-38.9],[144,-34.9],
  [146,-36.4],[149,-32.5],[151,-37.0],[154,-39.2],[156,-35.3],[159,-36.7],[161,-34.0],[164,-38.1],[166,-35.6],[169,-31.8],
  [171,-37.3],[174,-39.7],[176,-34.6],[179,-36.2],[181,-38.6],[184,-33.2],[186,-35.8],[189,-37.7],[191,-35.0],[194,-39.0],
  [196,-32.3],[199,-36.5],[201,-34.2],[204,-37.9],[206,-35.5],[209,-38.4],[211,-33.8],[214,-36.1],[216,-31.2],[219,-37.4],
  [221,-34.7],[224,-39.4],[226,-35.9],[229,-33.0],[231,-36.8],[234,-38.0],[236,-34.4],[239,-35.7],[241,-32.6],[244,-37.1],
  [246,-39.1],[249,-34.9],[251,-36.3],[254,-30.9],[256,-35.2],[259,-37.6],[261,-33.5],[264,-36.0],[266,-38.7],[269,-34.1],
  [271,-35.6],[274,-32.0],[276,-37.2],[279,-36.6],[281,-33.9],[284,-39.0],[286,-35.0],[289,-31.7],[291,-36.9],[294,-34.5],
  [296,-37.8],[299,-33.3],[301,-35.8],[304,-38.3],[306,-34.0],[309,-36.4],[311,-32.5],[314,-35.3],[316,-37.5],[319,-30.7],
  [321,-34.8],[324,-36.7],[326,-39.3],[329,-33.7],[331,-35.5],[334,-37.0],[336,-32.2],[339,-34.3],[341,-36.2],[344,-38.6],
  [346,-33.1],[349,-35.9],[351,-31.3],[354,-34.6],[356,-37.3],[359,-35.1],[361,-32.8],[364,-36.5],[366,-38.0],[369,-33.6],
  [371,-35.4],[374,-31.0],[376,-34.2],[379,-37.7],[381,-35.7],[384,-32.4],[386,-36.1],[389,-39.1],[391,-34.5],[394,-33.0],
  [396,-36.8],[399,-35.0],[401,-30.5],[404,-34.1],[406,-37.4],[409,-35.6],[411,-32.1],[414,-38.5],[416,-34.9],[419,-36.3],
  [421,-31.6],[424,-33.8],[426,-37.9],[429,-35.2],[431,-39.4],[434,-32.9],[436,-36.0],[439,-34.4],[441,-30.8],[444,-37.1],
  [446,-35.5],[449,-33.4],[451,-38.2],[454,-34.7],[456,-31.9],[459,-36.4],[461,-35.0],[464,-32.6],[466,-37.6],[469,-33.9],
  [471,-39.0],[474,-35.8],[476,-31.2],[479,-34.3],[481,-36.9],[484,-33.2],[486,-38.8],[489,-35.1],[491,-30.3],[494,-36.6],
  [496,-34.0],[499,-32.3],[501,-37.3],[504,-35.4],[506,-33.6],[509,-38.5],[511,-31.5],[514,-34.8],[516,-36.2],[519,-32.8],
  [521,-30.1],[524,-37.8],[526,-35.3],[529,-33.1],[531,-39.2],[534,-34.5],[536,-31.8],[539,-36.7],[541,-35.0],[544,-32.4],
  [546,-37.1],[549,-33.7],[551,-30.7],[554,-35.9],[556,-38.4],[559,-34.1],[561,-32.0],[564,-36.4],[566,-35.2],[569,-31.4],
  [571,-37.6],[574,-33.3],[576,-34.9],[579,-30.2],[581,-36.0],[584,-38.9],[586,-32.7],[589,-35.5],[591,-34.2],[594,-31.1],
  [596,-37.0],[599,-33.5],[601,-40.6],[604,-35.7],[606,-32.2],[609,-36.8],[611,-34.6],[614,-30.6],[616,-38.1],[619,-33.0],
  [621,-35.1],[624,-31.7],[626,-36.3],[629,-34.0],[631,-37.5],[634,-32.5],[636,-35.8],[639,-30.0],[641,-33.8],[644,-36.9],
  [646,-34.4],[649,-38.6],[651,-31.3],[654,-35.3],[656,-33.2],[659,-37.2],[661,-30.9],[664,-34.8],[666,-36.1],[669,-32.1],
  [671,-38.0],[674,-35.0],[676,-33.6],[679,-30.4],[681,-36.6],[684,-34.1],[686,-31.8],[689,-37.7],[691,-35.5],[694,-32.9],
  [696,-29.9],[699,-36.2],[701,-34.7],[704,-31.0],[706,-38.3],[709,-33.4],[711,-35.9],[714,-30.8],[716,-37.0],[719,-34.3],
  [721,-32.4],[724,-36.5],[726,-30.2],[729,-35.2],[731,-38.7],[734,-33.0],[736,-34.9],[739,-31.6],[741,-37.4],[744,-35.6],
  [746,-29.8],[749,-33.9],[751,-36.8],[754,-32.3],[756,-34.5],[759,-38.1],[761,-31.2],[764,-35.3],[766,-33.1],[769,-36.9],
  [771,-30.5],[774,-34.2],[776,-37.6],[779,-32.7],[781,-35.8],[784,-31.5],[786,-33.6],[789,-38.5],[791,-35.0],[794,-30.1],
  [796,-36.3],[799,-34.0],[802,-40.6],[804,-32.0],[806,-37.1],[809,-35.4],[811,-29.6],[814,-33.3],[816,-36.7],[819,-31.4],
  [821,-39.8],[824,-34.6],[826,-37.9],[829,-32.6],[831,-35.7],[834,-30.3],[836,-33.8],[839,-36.0],[841,-31.9],[844,-38.2],
  [846,-34.3],[849,-29.5],[851,-35.1],[854,-32.9],[856,-37.0],[859,-30.8],[861,-34.8],[864,-36.6],[866,-33.0],[869,-31.2],
  [871,-38.4],[874,-35.5],[876,-29.9],[879,-33.5],[881,-36.4],[884,-32.2],[886,-34.1],[889,-37.5],[891,-30.6],[894,-35.9],
  [896,-33.2],[899,-31.6],[901,-36.8],[904,-34.4],[906,-38.0],[909,-30.0],[911,-32.5],[914,-35.2],[916,-37.3],[919,-29.4],
  [921,-33.7],[924,-36.1],[926,-31.0],[929,-34.9],[931,-37.8],[934,-32.4],[936,-29.7],[939,-35.6],[941,-33.9],[944,-31.8],
  [946,-36.9],[949,-34.2],[951,-38.3],[954,-30.4],[956,-35.0],[959,-32.8],[961,-37.2],[964,-34.7],[966,-30.9],[969,-36.2],
  [971,-33.3],[974,-38.6],[976,-31.5],[979,-35.4],[981,-29.5],[984,-34.0],[986,-36.7],[989,-32.0],[991,-37.6],[994,-33.6],
  [996,-30.6],[998,-35.8],[999,-34.5],
  [1,-37.8],[5,-36.9],[9,-38.3],[14,-37.1],[18,-36.2],[23,-38.0],[28,-36.7],[33,-37.5],[38,-35.9],[43,-37.2],
  [48,-36.4],[53,-38.1],[58,-35.6],[63,-36.9],[68,-37.7],[73,-35.3],[78,-36.5],[83,-37.9],[88,-35.8],[93,-37.0],
  [98,-34.9],[103,-36.3],[108,-37.6],[113,-35.5],[118,-36.8],[123,-34.7],[128,-37.3],[133,-35.9],[138,-36.6],[143,-38.0],
  [148,-35.1],[153,-36.4],[158,-37.4],[163,-34.5],[168,-36.0],[173,-37.0],[178,-35.4],[183,-36.7],[188,-34.3],[193,-36.1],
  [198,-37.5],[203,-35.2],[208,-36.5],[213,-34.8],[218,-35.8],[223,-37.2],[228,-34.6],[233,-36.2],[238,-35.0],[243,-37.0],
  [248,-35.6],[253,-34.2],[258,-36.6],[263,-35.3],[268,-37.3],[273,-34.7],[278,-35.9],[283,-36.8],[288,-34.0],[293,-35.5],
  [298,-36.3],[303,-34.5],[308,-37.1],[313,-35.1],[318,-36.0],[323,-33.8],[328,-35.7],[333,-36.9],[338,-34.4],[343,-35.2],
  [348,-36.5],[353,-33.9],[358,-35.8],[363,-34.7],[368,-36.2],[373,-33.5],[378,-35.4],[383,-36.8],[388,-34.2],[393,-35.6],
  [398,-37.0],[403,-33.7],[408,-35.0],[413,-36.4],[418,-34.5],[423,-35.9],[428,-33.3],[433,-35.3],[438,-36.7],[443,-34.1],
  [448,-35.7],[453,-33.6],[458,-34.9],[463,-36.1],[468,-34.3],[473,-35.5],[478,-33.2],[483,-35.0],[488,-36.6],[493,-34.6],
  [498,-35.8],[503,-33.4],[508,-34.8],[513,-36.3],[518,-34.0],[523,-35.4],[528,-33.0],[533,-35.2],[538,-36.8],[543,-34.4],
  [548,-35.6],[553,-33.7],[558,-34.9],[563,-36.0],[568,-33.3],[573,-35.1],[578,-36.5],[583,-34.2],[588,-35.7],[593,-33.5],
  [598,-34.7],[603,-36.2],[608,-33.9],[613,-35.3],[618,-32.9],[623,-34.5],[628,-36.4],[633,-34.0],[638,-35.5],[643,-33.2],
  [648,-34.8],[653,-36.0],[658,-33.6],[663,-35.2],[668,-32.7],[673,-34.3],[678,-36.6],[683,-33.8],[688,-35.0],[693,-33.1],
  [698,-34.6],[703,-35.9],[708,-33.4],[713,-34.9],[718,-32.6],[723,-34.2],[728,-36.1],[733,-33.7],[738,-35.4],[743,-33.0],
  [748,-34.4],[753,-35.7],[758,-33.3],[763,-34.8],[768,-32.4],[773,-34.0],[778,-36.3],[783,-33.5],[788,-35.1],[793,-32.8],
  [798,-34.5],[803,-35.8],[808,-33.1],[813,-34.7],[818,-32.3],[823,-33.9],[828,-36.0],[833,-33.4],[838,-35.2],[843,-32.6],
  [848,-34.1],[853,-35.5],[858,-33.0],[863,-34.6],[868,-32.2],[873,-33.8],[878,-35.9],[883,-33.2],[888,-35.0],[893,-32.5],
  [898,-34.3],[903,-35.6],[908,-32.9],[913,-34.4],[918,-32.1],[923,-33.6],[928,-35.8],[933,-33.1],[938,-34.9],[943,-32.4],
  [948,-34.0],[953,-35.4],[958,-32.8],[963,-34.2],[968,-31.9],[973,-33.5],[978,-35.7],[983,-33.0],[988,-34.7],[993,-32.3],[998,-34.1]
];

// expand the RANsubopt runs into one point per rank
const ranPoints = [];
ranRuns.forEach(([first, last, value]) => {
  for (let r = first; r <= last; r++) ranPoints.push([r, value]);
});

const ink = '#262626';
const family = '"Liberation Sans", Arial, sans-serif';
const minus = v => String(v).replace('-', '\u2212');

// box around each plot area
const frame = {
  id: 'frame',
  afterDatasetsDraw(chart) {
    const { ctx, chartArea: a } = chart;
    ctx.save();
    ctx.strokeStyle = ink;
    ctx.lineWidth = 2.5;
    ctx.strokeRect(a.left, a.top, a.right - a.left, a.bottom - a.top);
    ctx.restore();
  }
};

// title centred over the plot area (not over the whole canvas)
const panelTitle = {
  id: 'panelTitle',
  afterDraw(chart, args, opts) {
    const { ctx, chartArea: a } = chart;
    ctx.save();
    ctx.font = '27px ' + family;
    ctx.fillStyle = ink;
    ctx.textAlign = 'center';
    ctx.textBaseline = 'middle';
    ctx.fillText(opts.text, (a.left + a.right) / 2, 37);
    ctx.restore();
  }
};

const panels = [
  { id: 'c1', title: 'Rank correlation 1.00', label: 'RANsubopt', points: ranPoints, ticks: ranTicks, min: -29.38, max: -23.31, color: 'rgba(0,0,0,0.9)' },
  { id: 'c2', title: 'Rank correlation 0.04', label: 'Π(bp-probs)', points: bpProbsPoints, ticks: bpProbsTicks, min: -32.9, max: 33.1, color: 'rgba(0,0,255,0.85)' },
  { id: 'c3', title: 'Rank correlation 0.20', label: 'Σ(bp-weights)', points: bpWeightsPoints, ticks: bpWeightsTicks, min: -42.39, max: -33.29, color: 'rgba(0,0,255,0.85)' },
  { id: 'c4', title: 'Rank correlation 0.48', label: ['Markov probability', '(multiloop multiply)'], points: multiplyPoints, ticks: multiplyTicks, min: -30.72, max: 9.76, color: 'rgba(0,128,0,0.85)' },
  { id: 'c5', title: 'Rank correlation 0.54', label: ['Markov probability', '(multiloop minimum)'], points: minimumPoints, ticks: minimumTicks, min: -30.99, max: 8.73, color: 'rgba(0,128,0,0.85)' },
  { id: 'c6', title: 'Rank correlation 0.36', label: ['Markov', 'alignment score'], points: alignmentPoints, ticks: alignmentTicks, min: -43.14, max: 1.1, color: 'rgba(0,128,0,0.85)' }
];

panels.forEach(p => {
  const twoLines = Array.isArray(p.label);
  new Chart(document.getElementById(p.id), {
    type: 'scatter',
    data: {
      datasets: [{
        data: p.points,
        backgroundColor: p.color,
        borderWidth: 0,
        pointRadius: 2.6,
        pointHoverRadius: 2.6
      }]
    },
    options: {
      responsive: false,
      animation: false,
      events: [],
      layout: { padding: { left: 0, right: 133, top: 53, bottom: 0 } },
      plugins: {
        legend: { display: false },
        tooltip: { enabled: false },
        title: { display: false },
        panelTitle: { text: p.title }
      },
      scales: {
        x: {
          type: 'linear',
          min: -50,
          max: 1050,
          grid: { display: false, drawTicks: false },
          border: { display: false },
          afterFit: s => { s.height = 77; },
          afterBuildTicks: s => { s.ticks = rankTicks.map(v => ({ value: v })); },
          ticks: { padding: 13.6, color: ink, maxRotation: 0, font: { family: family, size: 24 }, callback: minus },
          title: {
            display: true,
            text: 'Free energy rank',
            color: ink,
            font: { family: family, size: 27, lineHeight: 1.2 },
            padding: { top: 0, bottom: 0 }
          }
        },
        y: {
          type: 'linear',
          min: p.min,
          max: p.max,
          grid: { display: false, drawTicks: false },
          border: { display: false },
          afterFit: s => { s.width = 133; },
          afterBuildTicks: s => { s.ticks = p.ticks.map(v => ({ value: v })); },
          ticks: { padding: 19, color: ink, font: { family: family, size: 24 }, callback: minus },
          title: {
            display: true,
            text: p.label,
            color: ink,
            font: { family: family, size: 27, lineHeight: 1.1 },
            padding: { top: twoLines ? 11.15 : 37.15, bottom: 0 }
          }
        }
      }
    },
    plugins: [frame, panelTitle]
  });
});
</script>
</body>
</html>
